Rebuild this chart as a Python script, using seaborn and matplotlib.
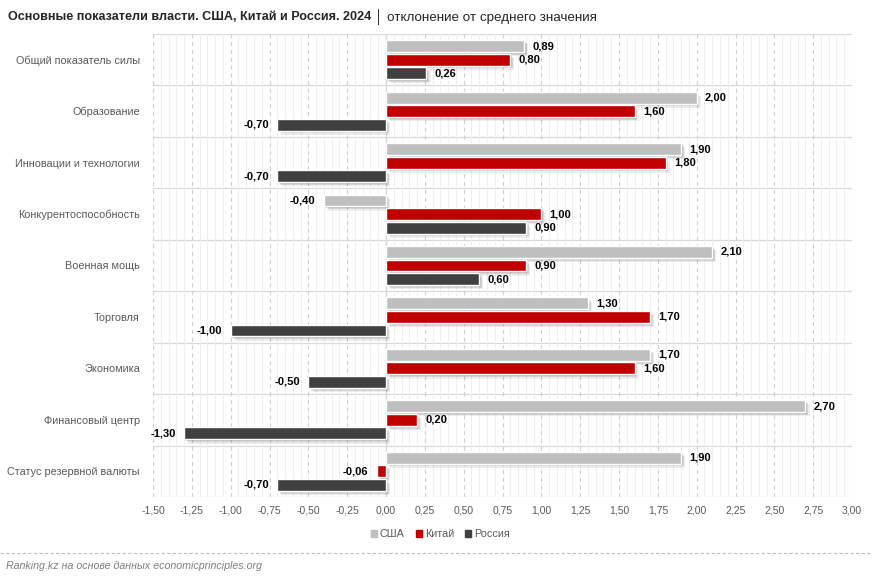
import numpy as np
import pandas as pd
import matplotlib
matplotlib.use("Agg")
import matplotlib.pyplot as plt
import matplotlib.patheffects as pe
from matplotlib.ticker import MultipleLocator, FixedLocator
import seaborn as sns

# -------------------- data --------------------
categories = [
    "Общий показатель силы",
    "Образование",
    "Инновации и технологии",
    "Конкурентоспособность",
    "Военная мощь",
    "Торговля",
    "Экономика",
    "Финансовый центр",
    "Статус резервной валюты",
]
usa = [0.89, 2.00, 1.90, -0.40, 2.10, 1.30, 1.70, 2.70, 1.90]
china = [0.80, 1.60, 1.80, 1.00, 0.90, 1.70, 1.60, 0.20, -0.06]
russia = [0.26, -0.70, -0.70, 0.90, 0.60, -1.00, -0.50, -1.30, -0.70]
series_names = ["США", "Китай", "Россия"]
x_ticks = [-1.50, -1.25, -1.00, -0.75, -0.50, -0.25, 0.00, 0.25, 0.50,
           0.75, 1.00, 1.25, 1.50, 1.75, 2.00, 2.25, 2.50, 2.75, 3.00]
# ----------------------------------------------

COLORS = {"США": "#BFBFBF", "Китай": "#C00000", "Россия": "#404040"}
FONT = ["Liberation Sans", "DejaVu Sans"]

df = pd.DataFrame({
    "category": categories * 3,
    "country": [series_names[0]] * 9 + [series_names[1]] * 9 + [series_names[2]] * 9,
    "value": usa + china + russia,
})

sns.set_style("white")
plt.rcParams["font.family"] = FONT

fig = plt.figure(figsize=(8.72, 5.77), dpi=100)
ax = fig.add_axes([153 / 872, 1 - 497 / 577, 699 / 872, 463 / 577])

sns.barplot(data=df, x="value", y="category", hue="country", orient="h",
            palette=COLORS, width=0.79, gap=0.12, ax=ax, legend=False,
            saturation=1, errorbar=None)

# soft shadow to the lower right
shadow = [pe.SimplePatchShadow(offset=(3, -3), shadow_rgbFace="#000000", alpha=0.07),
          pe.SimplePatchShadow(offset=(2, -2), shadow_rgbFace="#000000", alpha=0.10),
          pe.SimplePatchShadow(offset=(1, -1), shadow_rgbFace="#000000", alpha=0.12),
          pe.Normal()]
for cont in ax.containers:
    for bar in cont:
        bar.set_path_effects(shadow)
    vals = cont.datavalues
    ax.bar_label(cont, labels=[f"{v:.2f}".replace(".", ",") for v in vals],
                 padding=6, fontsize=8, fontweight="bold", color="black")

ax.set_xlim(-1.5, 3.0)
ax.set_ylim(8.5, -0.5)
ax.xaxis.set_major_locator(FixedLocator(x_ticks))
ax.xaxis.set_minor_locator(MultipleLocator(0.05))
ax.set_xticklabels([f"{t:.2f}".replace(".", ",") for t in x_ticks], fontsize=7.5, color="#595959")
ax.grid(axis="x", which="minor", color="#EFEFEF", linewidth=0.8, linestyle="-")
ax.grid(axis="x", which="major", color="#D0D0D0", linewidth=0.8, linestyle=(0, (4, 3)))
ax.set_axisbelow(True)
for yb in np.arange(-0.5, 9, 1.0):
    ax.axhline(yb, color="#D9D9D9", linewidth=0.9, zorder=0.5)
ax.axvline(0, color="#D9D9D9", linewidth=1.0, zorder=0.6)

ax.tick_params(axis="y", length=0, pad=9.5, labelsize=7.8, labelcolor="#595959")
ax.tick_params(axis="x", length=0, pad=6)
ax.set_xlabel("")
ax.set_ylabel("")
for s in ax.spines.values():
    s.set_visible(False)

# title
t1 = fig.text(8 / 872, 1 - 17 / 577, "Основные показатели власти. США, Китай и Россия. 2024",
              fontsize=9.1, fontweight="bold", va="center", ha="left")
fig.canvas.draw()
bb = t1.get_window_extent()
fig.text(bb.x1 / 872 + 0.004, 1 - 17 / 577, "│ отклонение от среднего значения",
         fontsize=9.6, va="center", ha="left", color="#262626")

# legend
handles = [plt.Rectangle((0, 0), 1, 1, color=COLORS[n]) for n in series_names]
fig.legend(handles, series_names, loc="center", bbox_to_anchor=(0.505, 1 - 534 / 577),
           ncol=3, frameon=False, fontsize=7.8, handlelength=0.6, handleheight=0.6,
           handletextpad=0.25, columnspacing=1.0, labelcolor="#595959")

# footer
fig.add_artist(plt.Line2D([0, 1], [1 - 553 / 577] * 2, transform=fig.transFigure,
                          color="#BFBFBF", linewidth=0.8, linestyle=(0, (3, 2))))
fig.text(6 / 872, 1 - 566 / 577, "Ranking.kz на основе данных economicprinciples.org",
         fontsize=7.7, style="italic", color="#7F7F7F", va="center", ha="left")

fig.savefig("out.png", dpi=100)
